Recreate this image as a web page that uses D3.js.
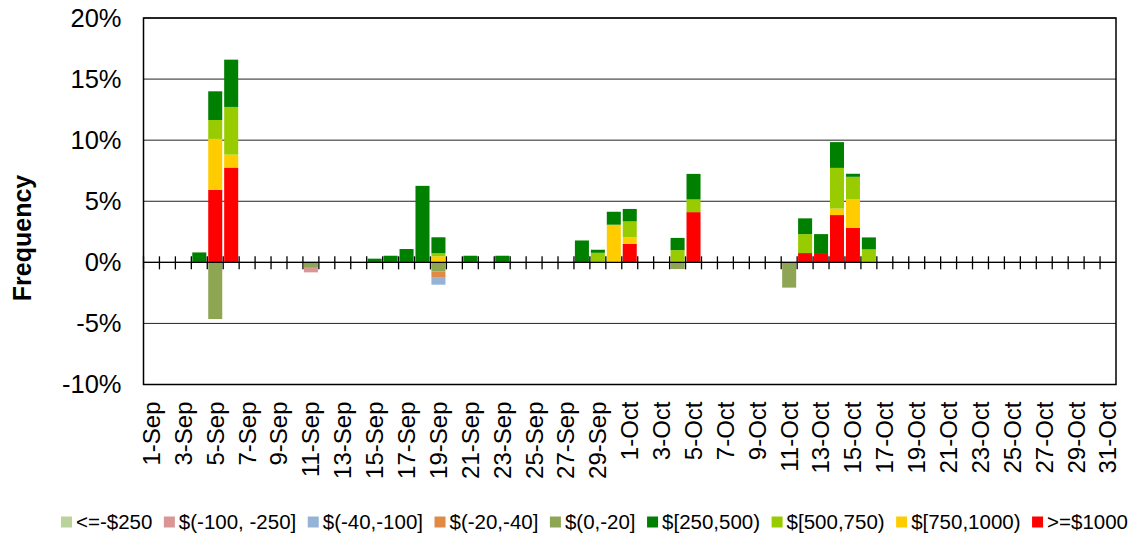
<!DOCTYPE html>
<html>
<head>
<meta charset="utf-8">
<script src="https://cdn.jsdelivr.net/npm/d3@7"></script>
<style>
  body { margin: 0; background: #fff; }
  text { font-family: "Liberation Sans", Arial, sans-serif; fill: #000; }
</style>
</head>
<body>
<svg id="chart"></svg>
<script>
// categories: one per day
const days = [
  "1-Sep","2-Sep","3-Sep","4-Sep","5-Sep","6-Sep","7-Sep","8-Sep","9-Sep","10-Sep",
  "11-Sep","12-Sep","13-Sep","14-Sep","15-Sep","16-Sep","17-Sep","18-Sep","19-Sep","20-Sep",
  "21-Sep","22-Sep","23-Sep","24-Sep","25-Sep","26-Sep","27-Sep","28-Sep","29-Sep","30-Sep",
  "1-Oct","2-Oct","3-Oct","4-Oct","5-Oct","6-Oct","7-Oct","8-Oct","9-Oct","10-Oct",
  "11-Oct","12-Oct","13-Oct","14-Oct","15-Oct","16-Oct","17-Oct","18-Oct","19-Oct","20-Oct",
  "21-Oct","22-Oct","23-Oct","24-Oct","25-Oct","26-Oct","27-Oct","28-Oct","29-Oct","30-Oct","31-Oct"
];

// series values, percent per day (61 days)
const ge1000   = [0,0,0,0,5.94,7.76,0,0,0,0,0,0,0,0,0,0,0,0,0,0,0,0,0,0,0,0,0,0,0,0,1.51,0,0,0,4.11,0,0,0,0,0,0,0.76,0.76,3.87,2.83,0,0,0,0,0,0,0,0,0,0,0,0,0,0,0,0];
const r750     = [0,0,0,0,4.16,1.06,0,0,0,0,0,0,0,0,0,0,0,0,0.49,0,0,0,0,0,0,0,0,0,0,3.08,0.55,0,0,0,0,0,0,0,0,0,0,0,0,0.53,2.35,0,0,0,0,0,0,0,0,0,0,0,0,0,0,0,0];
const r500     = [0,0,0,0,1.55,3.90,0,0,0,0,0,0,0,0,0,0,0,0,0.25,0,0,0,0,0,0,0,0,0,0.78,0,1.29,0,0,1.00,1.04,0,0,0,0,0,0,1.55,0,3.33,1.82,1.06,0,0,0,0,0,0,0,0,0,0,0,0,0,0,0];
const r250     = [0,0,0,0.81,2.35,3.87,0,0,0,0,0,0,0,0,0.30,0.54,1.09,6.26,1.31,0,0.54,0,0.54,0,0,0,0,1.79,0.25,1.06,1.02,0,0,1.00,2.09,0,0,0,0,0,0,1.29,1.55,2.11,0.25,0.98,0,0,0,0,0,0,0,0,0,0,0,0,0,0,0];
const n0_20    = [0,0,0,0,-4.64,0,0,0,0,0,-0.45,0,0,0,0,0,0,0,-0.74,0,0,0,0,0,0,0,0,0,0,0,0,0,0,-0.55,0,0,0,0,0,0,-2.07,0,0,0,0,0,0,0,0,0,0,0,0,0,0,0,0,0,0,0,0];
const n20_40   = [0,0,0,0,0,0,0,0,0,0,0,0,0,0,0,0,0,0,-0.52,0,0,0,0,0,0,0,0,0,0,0,0,0,0,0,0,0,0,0,0,0,0,0,0,0,0,0,0,0,0,0,0,0,0,0,0,0,0,0,0,0,0];
const n40_100  = [0,0,0,0,0,0,0,0,0,0,0,0,0,0,0,0,0,0,-0.57,0,0,0,0,0,0,0,0,0,0,0,0,0,0,0,0,0,0,0,0,0,0,0,0,0,0,0,0,0,0,0,0,0,0,0,0,0,0,0,0,0,0];
const n100_250 = [0,0,0,0,0,0,0,0,0,0,-0.37,0,0,0,0,0,0,0,0,0,0,0,0,0,0,0,0,0,0,0,0,0,0,0,0,0,0,0,0,0,0,0,0,0,0,0,0,0,0,0,0,0,0,0,0,0,0,0,0,0,0];
const le250    = [0,0,0,0,0,0,0,0,0,0,0,0,0,0,0,0,0,0,0,0,0,0,0,0,0,0,0,0,0,0,0,0,0,0,0,0,0,0,0,0,0,0,0,0,0,0,0,0,0,0,0,0,0,0,0,0,0,0,0,0,0];

// legend order as in the picture
const legendNames = ["<=-$250","$(-100, -250]","$(-40,-100]","$(-20,-40]","$(0,-20]","$[250,500)","$[500,750)","$[750,1000)",">=$1000"];
const legendColors = ["#b9d39b","#d99694","#95b3d7","#e08a44","#8ea553","#008000","#99cc00","#ffcc00","#ff0000"];

const yTicks = [-10, -5, 0, 5, 10, 15, 20];

// stack order, from zero outwards
const stackNames = [">=$1000","$[750,1000)","$[500,750)","$[250,500)","$(0,-20]","$(-20,-40]","$(-40,-100]","$(-100, -250]","<=-$250"];
const seriesByName = {
  ">=$1000": ge1000, "$[750,1000)": r750, "$[500,750)": r500, "$[250,500)": r250,
  "$(0,-20]": n0_20, "$(-20,-40]": n20_40, "$(-40,-100]": n40_100, "$(-100, -250]": n100_250, "<=-$250": le250
};

const width = 1133, height = 537;
const margin = {top: 18, right: 17, bottom: 152.5, left: 143.5};
const innerW = width - margin.left - margin.right;
const innerH = height - margin.top - margin.bottom;

const svg = d3.select('#chart').attr('width', width).attr('height', height);
const g = svg.append('g').attr('transform', `translate(${margin.left},${margin.top})`);

const table = days.map((d, i) => {
  const row = {day: d};
  stackNames.forEach(n => row[n] = seriesByName[n][i]);
  return row;
});

const stacked = d3.stack().keys(stackNames).offset(d3.stackOffsetDiverging)(table);

const x = d3.scaleBand().domain(days).range([0, innerW]).paddingInner(0.12).paddingOuter(0.06);
const xb = d3.scaleBand().domain(days).range([0, innerW]);
const y = d3.scaleLinear().domain([-10, 20]).range([innerH, 0]);
const color = d3.scaleOrdinal().domain(legendNames).range(legendColors);

// gridlines
g.append('g').selectAll('line').data(yTicks).join('line')
  .attr('x1', 0).attr('x2', innerW)
  .attr('y1', d => y(d)).attr('y2', d => y(d))
  .attr('stroke', '#222').attr('stroke-width', 1);

// y labels
const yAxis = d3.axisLeft(y).tickValues(yTicks).tickFormat(d => d + '%').tickSize(0).tickPadding(22);
g.append('g').call(yAxis)
  .call(s => s.select('.domain').remove())
  .selectAll('text').style('font-size', '25.5px').attr('fill', '#000');

// bars
g.append('g').selectAll('g').data(stacked).join('g')
  .attr('fill', d => color(d.key))
  .selectAll('rect').data(d => d).join('rect')
  .attr('x', d => x(d.data.day))
  .attr('width', x.bandwidth())
  .attr('y', d => y(Math.max(d[0], d[1])))
  .attr('height', d => Math.abs(y(d[0]) - y(d[1])));

// zero axis with crossing ticks at category boundaries
g.append('line').attr('x1', 0).attr('x2', innerW).attr('y1', y(0)).attr('y2', y(0))
  .attr('stroke', '#000').attr('stroke-width', 1.3);
g.append('g').selectAll('line').data(days).join('line')
  .attr('x1', d => xb(d)).attr('x2', d => xb(d))
  .attr('y1', y(0) - 6).attr('y2', y(0) + 7)
  .attr('stroke', '#000').attr('stroke-width', 1.3);

// plot border
g.append('rect').attr('width', innerW).attr('height', innerH)
  .attr('fill', 'none').attr('stroke', '#000').attr('stroke-width', 1.5);

// x labels, every second day
g.append('g').selectAll('text').data(days.filter((d, i) => i % 2 === 0)).join('text')
  .attr('transform', d => `translate(${xb(d) + xb.bandwidth() / 2},${innerH + 17}) rotate(-90)`)
  .attr('text-anchor', 'end').attr('dy', '0.35em')
  .style('font-size', '24px')
  .text(d => d);

// y title
svg.append('text')
  .attr('transform', `translate(22,238) rotate(-90)`)
  .attr('text-anchor', 'middle').attr('dy', '0.35em')
  .style('font-size', '25px').style('font-weight', 'bold')
  .text('Frequency');

// legend
const lg = svg.append('g').attr('transform', `translate(0,522)`);
const items = lg.selectAll('g').data(legendNames).join('g');
items.append('rect').attr('width', 11).attr('height', 11).attr('y', -5.5).attr('fill', d => color(d));
items.append('text').attr('x', 15).attr('dy', '0.35em').style('font-size', '20.5px').text(d => d);
let widths = [];
items.each(function() { widths.push(15 + d3.select(this).select('text').node().getComputedTextLength()); });
const gap = 11.5;
const total = d3.sum(widths) + gap * (widths.length - 1);
let cx = 594.5 - total / 2;
items.attr('transform', (d, i) => { const t = `translate(${cx},0)`; cx += widths[i] + gap; return t; });
</script>
</body>
</html>
